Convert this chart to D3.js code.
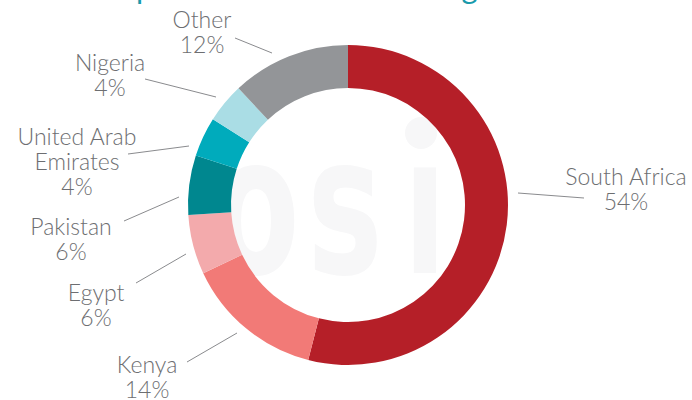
<!doctype html>
<html>
<head>
<meta charset="utf-8">
<title>Donut</title>
<script src="https://cdn.jsdelivr.net/npm/d3@7"></script>
<style>
  body { margin: 0; background: #fff; }
  svg text { font-family: Lato, "Open Sans", sans-serif; font-weight: 300; }
</style>
</head>
<body>
<svg id="chart" width="692" height="400"></svg>
<script>
// data, clockwise from 12 o'clock
var countries = ['South Africa', 'Kenya', 'Egypt', 'Pakistan', 'United Arab Emirates', 'Nigeria', 'Other'];
var shares = [54, 14, 6, 6, 4, 4, 12];
var colours = ['#b51f28', '#f27a77', '#f3aaac', '#00878f', '#00abbc', '#aadde5', '#939598'];

// label placement (relative to donut centre): text centre, text lines, leader line
var labelLayout = {
  'South Africa':         { x: 278, y: -20, lines: ['South Africa'], l: [170, -12, 236, -7] },
  'Kenya':                { x: -201, y: 168, lines: ['Kenya'], l: [-111, 128, -161, 157] },
  'Egypt':                { x: -252, y: 96, lines: ['Egypt'], l: [-162, 49, -212, 78] },
  'Pakistan':             { x: -277, y: 30, lines: ['Pakistan'], l: [-169, -8, -224, 16] },
  'United Arab Emirates': { x: -271, y: -60, lines: ['United Arab', 'Emirates'], l: [-159, -59, -220, -51] },
  'Nigeria':              { x: -238, y: -134, lines: ['Nigeria'], l: [-132, -108, -203, -126] },
  'Other':                { x: -146, y: -177, lines: ['Other'], l: [-76, -152, -113, -167] }
};

var cx = 348, cy = 205, outerR = 160, innerR = 117;

var svg = d3.select('#chart');

// clipped title at the very top
svg.append('text')
  .attr('x', 104)
  .attr('y', -1)
  .attr('fill', '#1a9aab')
  .style('font-size', '31px')
  .style('font-weight', 400)
  .text('Top source countries of migrants');

var g = svg.append('g').attr('transform', 'translate(' + cx + ',' + cy + ')');

// faint watermark behind the ring
var mark = [{ ch: 'o', x: -92 }, { ch: 's', x: -3 }, { ch: 'ı', x: 77 }];
g.selectAll('text.mark')
  .data(mark)
  .enter()
  .append('text')
  .attr('class', 'mark')
  .attr('text-anchor', 'middle')
  .attr('transform', function (d) { return 'translate(' + d.x + ',68) scale(0.66,1)'; })
  .attr('fill', '#f7f7f8')
  .style('font-family', '"DejaVu Sans", sans-serif')
  .style('font-weight', 700)
  .style('font-size', '192px')
  .text(function (d) { return d.ch; });
g.append('circle')
  .attr('cx', 73)
  .attr('cy', -72)
  .attr('r', 16)
  .attr('fill', '#f7f7f8');

var data = countries.map(function (c, i) { return { name: c, value: shares[i], colour: colours[i] }; });

var pie = d3.pie().sort(null).value(function (d) { return d.value; });
var arc = d3.arc().innerRadius(innerR).outerRadius(outerR);

g.selectAll('path.slice')
  .data(pie(data))
  .enter()
  .append('path')
  .attr('class', 'slice')
  .attr('d', arc)
  .attr('fill', function (d) { return d.data.colour; });

// leader lines
g.selectAll('line.leader')
  .data(data)
  .enter()
  .append('line')
  .attr('class', 'leader')
  .attr('x1', function (d) { return labelLayout[d.name].l[0]; })
  .attr('y1', function (d) { return labelLayout[d.name].l[1]; })
  .attr('x2', function (d) { return labelLayout[d.name].l[2]; })
  .attr('y2', function (d) { return labelLayout[d.name].l[3]; })
  .attr('stroke', '#8a8b8e')
  .attr('stroke-width', 1);

// labels
var lineH = 25;
var labels = g.selectAll('text.label')
  .data(data)
  .enter()
  .append('text')
  .attr('class', 'label')
  .attr('text-anchor', 'middle')
  .attr('fill', '#6d6e71')
  .style('font-size', '23px');

labels.each(function (d) {
  var lay = labelLayout[d.name];
  var t = d3.select(this);
  var rows = lay.lines.concat([d.value + '%']);
  rows.forEach(function (r, i) {
    t.append('tspan')
      .attr('x', lay.x)
      .attr('y', lay.y + i * lineH)
      .text(r);
  });
});
</script>
</body>
</html>
